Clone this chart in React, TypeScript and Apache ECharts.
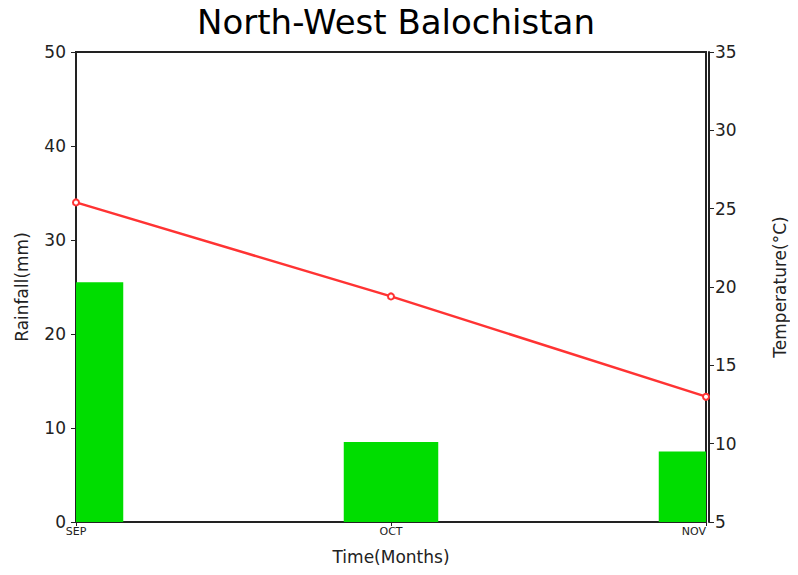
import React, { useEffect, useRef } from "react";
import * as echarts from "echarts";

const months = ["SEP", "OCT", "NOV"];
const rainfall = [25.5, 8.5, 7.5];
const temperature = [25.4, 19.4, 13.0];
const rainTicks = { min: 0, max: 50, interval: 10 };
const tempTicks = { min: 5, max: 35, interval: 5 };

export default function App() {
  const ref = useRef<HTMLDivElement>(null);
  useEffect(() => {
    if (!ref.current) return;
    const chart = echarts.init(ref.current, null, { renderer: "svg" });
    const font = "DejaVu Sans";
    chart.setOption({
      animation: false,
      backgroundColor: "#ffffff",
      title: {
        text: "North-West Balochistan",
        left: 391,
        top: 0,
        textAlign: "center",
        textStyle: { fontFamily: font, fontSize: 34, fontWeight: "normal", color: "#000" },
      },
      grid: {
        left: 76,
        right: 92,
        top: 52,
        bottom: 53,
        show: true,
        borderColor: "#222",
        borderWidth: 2,
        containLabel: false,
      },
      xAxis: {
        type: "category",
        data: months,
        boundaryGap: false,
        name: "Time(Months)",
        nameLocation: "middle",
        nameGap: 26,
        nameTextStyle: { fontFamily: font, fontSize: 17, color: "#222" },
        axisLine: { show: true, lineStyle: { color: "#222", width: 2 } },
        axisTick: { show: true, length: 4, lineStyle: { color: "#222" } },
        axisLabel: { fontFamily: font, fontSize: 11, color: "#222", margin: 4, alignMaxLabel: "right" },
        splitLine: { show: false },
      },
      yAxis: [
        {
          type: "value",
          ...rainTicks,
          name: "Rainfall(mm)",
          nameLocation: "middle",
          nameGap: 46,
          nameTextStyle: { fontFamily: font, fontSize: 17, color: "#222" },
          axisLine: { show: true, lineStyle: { color: "#222", width: 2 } },
          axisTick: { show: true, length: 5, lineStyle: { color: "#222" } },
          axisLabel: { fontFamily: font, fontSize: 17, color: "#222", margin: 10 },
          splitLine: { show: false },
        },
        {
          type: "value",
          ...tempTicks,
          position: "right",
          offset: 3,
          name: "Temperature(°C)",
          nameLocation: "middle",
          nameGap: 62,
          nameTextStyle: { fontFamily: font, fontSize: 17, color: "#222" },
          axisLine: { show: true, lineStyle: { color: "#222", width: 2 } },
          axisTick: { show: true, length: 5, lineStyle: { color: "#222" } },
          axisLabel: { fontFamily: font, fontSize: 17, color: "#222", margin: 6 },
          splitLine: { show: false },
        },
      ],
      series: [
        {
          type: "custom",
          yAxisIndex: 0,
          data: rainfall.map((v, i) => [i, v]),
          encode: { x: 0, y: 1 },
          z: 1,
          renderItem: (params: any, api: any) => {
            const base = api.coord([api.value(0), 0]);
            const top = api.coord([api.value(0), api.value(1)]);
            const w = api.size([1, 0])[0] * 0.3;
            const cs = params.coordSys;
            const shape = echarts.graphic.clipRectByRect(
              { x: base[0] - w / 2, y: top[1], width: w, height: base[1] - top[1] },
              { x: cs.x, y: cs.y, width: cs.width, height: cs.height }
            );
            if (!shape) return null;
            return { type: "rect", shape, style: { fill: "#00dd00" } };
          },
        },
        {
          type: "line",
          data: temperature,
          yAxisIndex: 1,
          symbol: "emptyCircle",
          symbolSize: 6,
          clip: false,
          z: 3,
          lineStyle: { color: "#ff3333", width: 2.5 },
          itemStyle: { color: "#ff3333", borderWidth: 2 },
        },
      ],
    });
    return () => chart.dispose();
  }, []);
  return <div ref={ref} style={{ width: 798, height: 575, margin: -8 }} />;
}
